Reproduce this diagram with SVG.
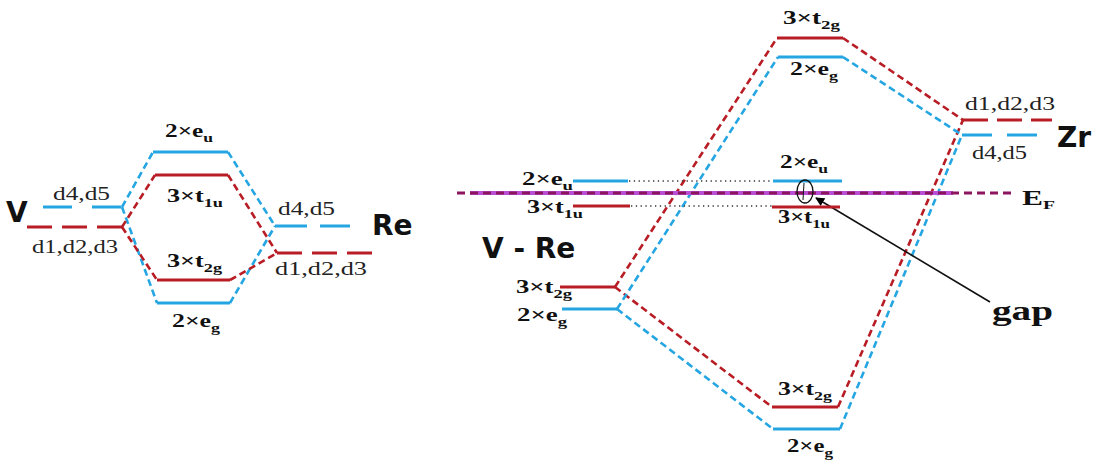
<svg xmlns="http://www.w3.org/2000/svg" width="1094" height="466" viewBox="0 0 1094 466">
<defs>
<marker id="arr" viewBox="0 0 10 10" refX="9" refY="5" markerWidth="9" markerHeight="9" markerUnits="userSpaceOnUse" orient="auto"><path d="M0,0 L10,5 L0,10 z" fill="#000"/></marker>
</defs>
<style>
.lvR{stroke:#b81c24;stroke-width:3;fill:none}
.lvB{stroke:#25a6e2;stroke-width:3;fill:none}
.cR{stroke:#b81c24;stroke-width:2.6;stroke-dasharray:7 4;fill:none}
.cB{stroke:#25a6e2;stroke-width:2.6;stroke-dasharray:7 4;fill:none}
.lab{font-family:"Liberation Serif","Times New Roman",serif;font-weight:bold;font-size:18px;fill:#111}
.sub{font-size:12.5px}
.d{font-family:"Liberation Serif","Times New Roman",serif;font-size:19px;fill:#222}
.el{font-family:"DejaVu Sans","Liberation Sans",sans-serif;font-weight:bold;font-size:28px;fill:#111}
.dot{stroke:#333;stroke-width:1.3;stroke-dasharray:1.3 3.5;fill:none}
</style>
<rect width="1094" height="466" fill="#fff"/>

<g id="connectors">
<path class="cB" d="M122,207 L153,152"/>
<path class="cB" d="M122,207 L157,303"/>
<path class="cR" d="M122,227 L155,175"/>
<path class="cR" d="M122,227 L157,280"/>
<path class="cB" d="M228,152 L275,226"/>
<path class="cB" d="M230,303 L275,226"/>
<path class="cR" d="M228,175 L277,253"/>
<path class="cR" d="M230,280 L277,253"/>
<path class="cR" d="M615,287 L777,38"/>
<path class="cR" d="M615,287 L772,407"/>
<path class="cR" d="M843,38 L963,120"/>
<path class="cR" d="M838,407 L963,120"/>
<path class="cB" d="M617,309 L778,57"/>
<path class="cB" d="M617,309 L773,429"/>
<path class="cB" d="M843,57 L962,135"/>
<path class="cB" d="M840,429 L962,135"/>
<path class="dot" d="M629,181 L773,181"/>
<path class="dot" d="M631,206 L772,206"/>
<line x1="990" y1="302" x2="816" y2="198" stroke="#111" stroke-width="1.6" marker-end="url(#arr)"/>
</g>

<g id="fermi">
<line x1="470" y1="193" x2="953" y2="193" stroke="#b84fd6" stroke-width="4"/>
<line x1="457" y1="193" x2="1013" y2="193" stroke="#8c1560" stroke-width="3" stroke-dasharray="8 5"/>
<text x="1022" y="205" class="lab" style="font-size:20px" textLength="33" lengthAdjust="spacingAndGlyphs">E<tspan dy="4" class="sub">F</tspan></text>
</g>

<g id="V">
<text x="6" y="222" class="el">V</text>
<line x1="43" y1="207" x2="122" y2="207" class="lvB" stroke-dasharray="29 20"/>
<line x1="27" y1="227" x2="122" y2="227" class="lvR" stroke-dasharray="25 10"/>
<text x="53" y="200" class="d" textLength="57" lengthAdjust="spacingAndGlyphs">d4,d5</text>
<text x="32" y="253" class="d" textLength="86" lengthAdjust="spacingAndGlyphs">d1,d2,d3</text>
</g>

<g id="Re">
<text x="372" y="235" class="el">Re</text>
<line x1="275" y1="226" x2="350" y2="226" class="lvB" stroke-dasharray="32 13"/>
<line x1="277" y1="253" x2="372" y2="253" class="lvR" stroke-dasharray="25 10"/>
<text x="278" y="215" class="d" textLength="57" lengthAdjust="spacingAndGlyphs">d4,d5</text>
<text x="275" y="275" class="d" textLength="92" lengthAdjust="spacingAndGlyphs">d1,d2,d3</text>
</g>

<g id="left-eu">
<line x1="153" y1="152" x2="228" y2="152" class="lvB"/>
<text x="165" y="137" class="lab" textLength="48" lengthAdjust="spacingAndGlyphs">2×e<tspan dy="5" class="sub">u</tspan></text>
</g>
<g id="left-t1u">
<line x1="155" y1="175" x2="228" y2="175" class="lvR"/>
<text x="167" y="202" class="lab" textLength="56" lengthAdjust="spacingAndGlyphs">3×t<tspan dy="5" class="sub">1u</tspan></text>
</g>
<g id="left-t2g">
<line x1="157" y1="280" x2="230" y2="280" class="lvR"/>
<text x="167" y="267" class="lab" textLength="55" lengthAdjust="spacingAndGlyphs">3×t<tspan dy="5" class="sub">2g</tspan></text>
</g>
<g id="left-eg">
<line x1="157" y1="303" x2="230" y2="303" class="lvB"/>
<text x="172" y="327" class="lab" textLength="48" lengthAdjust="spacingAndGlyphs">2×e<tspan dy="5" class="sub">g</tspan></text>
</g>

<g id="VRe">
<text x="482" y="258" class="el">V - Re</text>
</g>
<g id="VRe-eu">
<line x1="573" y1="181" x2="628" y2="181" class="lvB"/>
<text x="522" y="185" class="lab" textLength="51" lengthAdjust="spacingAndGlyphs">2×e<tspan dy="5" class="sub">u</tspan></text>
</g>
<g id="VRe-t1u">
<line x1="573" y1="206" x2="630" y2="206" class="lvR"/>
<text x="527" y="213" class="lab" textLength="56" lengthAdjust="spacingAndGlyphs">3×t<tspan dy="5" class="sub">1u</tspan></text>
</g>
<g id="VRe-t2g">
<line x1="560" y1="287" x2="615" y2="287" class="lvR"/>
<text x="516" y="293" class="lab" textLength="56" lengthAdjust="spacingAndGlyphs">3×t<tspan dy="5" class="sub">2g</tspan></text>
</g>
<g id="VRe-eg">
<line x1="562" y1="309" x2="617" y2="309" class="lvB"/>
<text x="517" y="321" class="lab" textLength="50" lengthAdjust="spacingAndGlyphs">2×e<tspan dy="5" class="sub">g</tspan></text>
</g>

<g id="top-t2g">
<line x1="777" y1="38" x2="843" y2="38" class="lvR"/>
<text x="783" y="24" class="lab" textLength="57" lengthAdjust="spacingAndGlyphs">3×t<tspan dy="5" class="sub">2g</tspan></text>
</g>
<g id="top-eg">
<line x1="778" y1="57" x2="843" y2="57" class="lvB"/>
<text x="790" y="75" class="lab" textLength="48" lengthAdjust="spacingAndGlyphs">2×e<tspan dy="5" class="sub">g</tspan></text>
</g>
<g id="mid-eu">
<line x1="773" y1="181" x2="842" y2="181" class="lvB"/>
<text x="780" y="168" class="lab" textLength="48" lengthAdjust="spacingAndGlyphs">2×e<tspan dy="5" class="sub">u</tspan></text>
</g>
<g id="mid-t1u">
<line x1="772" y1="207" x2="840" y2="207" class="lvR"/>
<text x="778" y="223" class="lab" textLength="52" lengthAdjust="spacingAndGlyphs">3×t<tspan dy="5" class="sub">1u</tspan></text>
</g>
<g id="bot-t2g">
<line x1="772" y1="407" x2="838" y2="407" class="lvR"/>
<text x="778" y="395" class="lab" textLength="54" lengthAdjust="spacingAndGlyphs">3×t<tspan dy="5" class="sub">2g</tspan></text>
</g>
<g id="bot-eg">
<line x1="773" y1="429" x2="840" y2="429" class="lvB"/>
<text x="787" y="452" class="lab" textLength="46" lengthAdjust="spacingAndGlyphs">2×e<tspan dy="5" class="sub">g</tspan></text>
</g>

<g id="Zr">
<line x1="963" y1="120" x2="1052" y2="120" class="lvR" stroke-dasharray="25 9"/>
<line x1="962" y1="135" x2="1038" y2="135" class="lvB" stroke-dasharray="30 15"/>
<text x="965" y="110" class="d" textLength="90" lengthAdjust="spacingAndGlyphs">d1,d2,d3</text>
<text x="972" y="159" class="d" textLength="55" lengthAdjust="spacingAndGlyphs">d4,d5</text>
<text x="1057" y="147" class="el">Zr</text>
</g>

<g id="gap">
<ellipse cx="805" cy="191.5" rx="8" ry="11.5" fill="none" stroke="#111" stroke-width="1.3"/>
<line x1="804" y1="183" x2="803" y2="200" stroke="#111" stroke-width="1"/>
<text x="992" y="320" class="lab" style="font-size:28px" textLength="61" lengthAdjust="spacingAndGlyphs">gap</text>
</g>
</svg>
